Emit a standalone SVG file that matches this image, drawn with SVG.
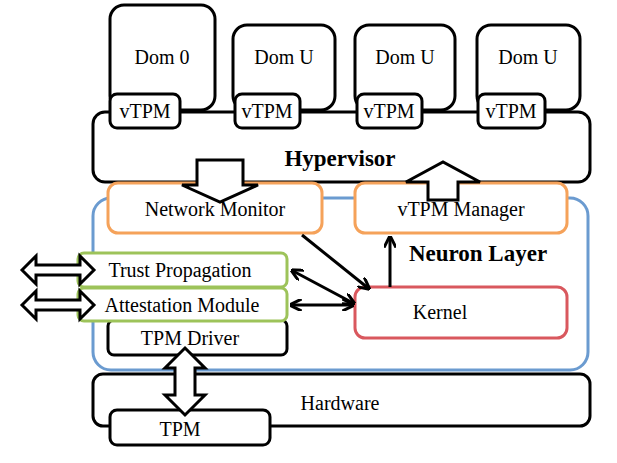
<svg xmlns="http://www.w3.org/2000/svg" width="617" height="463" viewBox="0 0 617 463">
<defs>
<style>
.b{fill:#fff;stroke:#000;stroke-width:3}
.o{fill:#fff;stroke:#f5a25a;stroke-width:3}
.g{fill:#fff;stroke:#9dc35a;stroke-width:3}
.r{fill:#fff;stroke:#d9585e;stroke-width:3}
.bl{fill:#fff;stroke:#6b9bd0;stroke-width:3}
.ba{fill:#fff;stroke:#000;stroke-width:3;stroke-linejoin:miter}
text{font-family:"Liberation Serif",serif;font-size:20px;text-anchor:middle}
.bo{font-weight:bold;font-size:23px}
.c{stroke:#000;stroke-width:3;fill:none}
</style>
<marker id="a" viewBox="0 0 10 10" refX="8" refY="5" markerWidth="4" markerHeight="4" orient="auto-start-reverse"><path d="M0,0 L10,5 L0,10" fill="none" stroke="#000" stroke-width="2.5"/></marker>
</defs>
<g id="dom0"><rect class="b" x="110" y="5" width="105" height="105" rx="14"/><text x="162" y="64">Dom 0</text></g>
<g id="domu1"><rect class="b" x="233" y="25" width="102" height="85" rx="14"/><text x="284" y="64">Dom U</text></g>
<g id="domu2"><rect class="b" x="355" y="25" width="100" height="85" rx="14"/><text x="405" y="64">Dom U</text></g>
<g id="domu3"><rect class="b" x="477" y="25" width="103" height="85" rx="14"/><text x="528" y="64">Dom U</text></g>
<g id="hypervisor"><rect class="b" x="93" y="112" width="497" height="70" rx="12"/><text class="bo" x="340" y="166">Hypervisor</text></g>
<g id="vtpm1"><rect class="b" x="110" y="94" width="70" height="34" rx="7"/><text x="145" y="118">vTPM</text></g>
<g id="vtpm2"><rect class="b" x="235" y="94" width="65" height="34" rx="7"/><text x="267" y="118">vTPM</text></g>
<g id="vtpm3"><rect class="b" x="357" y="94" width="65" height="34" rx="7"/><text x="389" y="118">vTPM</text></g>
<g id="vtpm4"><rect class="b" x="478" y="94" width="67" height="34" rx="7"/><text x="511" y="118">vTPM</text></g>
<g id="neuron"><rect class="bl" x="93" y="198" width="495" height="172" rx="18"/><text class="bo" x="478" y="261">Neuron Layer</text></g>
<g id="hardware"><rect class="b" x="93" y="374" width="497" height="52" rx="10"/><text x="340" y="410">Hardware</text></g>
<g id="tpm"><rect class="b" x="110" y="410" width="160" height="35" rx="7"/><text x="180" y="436">TPM</text></g>
<g id="netmon"><rect class="o" x="108" y="183" width="214" height="50" rx="10"/><text x="215" y="216">Network Monitor</text></g>
<g id="vtpmmgr"><rect class="o" x="355" y="183" width="212" height="50" rx="10"/><text x="461" y="216">vTPM Manager</text></g>
<g id="tpmdriver"><rect class="b" x="108" y="320" width="179" height="35" rx="6"/><text x="190" y="345">TPM Driver</text></g>
<g id="trust"><rect class="g" x="78" y="253" width="209" height="34" rx="6"/><text x="180" y="277">Trust Propagation</text></g>
<g id="attest"><rect class="g" x="78" y="288" width="209" height="33" rx="6"/><text x="182" y="312">Attestation Module</text></g>
<g id="kernel"><rect class="r" x="355" y="287" width="212" height="51" rx="10"/><text x="440" y="319">Kernel</text></g>
<g id="connectors">
<path class="ba" d="M197,160 L243,160 L243,185 L258,185 L220,202 L182,185 L197,185 Z"/>
<path class="ba" d="M428,200 L458,200 L458,182 L480,182 L443,162 L406,182 L428,182 Z"/>
<path class="ba" d="M22,270 L36,256 L36,265 L80,265 L80,256 L94,270 L80,284 L80,275 L36,275 L36,284 Z"/>
<path class="ba" d="M22,305 L36,291 L36,300 L80,300 L80,291 L94,305 L80,319 L80,310 L36,310 L36,319 Z"/>
<path class="ba" d="M185,348 L205,368 L195,368 L195,395 L205,395 L185,415 L165,395 L175,395 L175,368 L165,368 Z"/>
<line class="c" x1="302" y1="235" x2="368" y2="288" marker-end="url(#a)"/>
<line class="c" x1="390" y1="287" x2="390" y2="238" marker-end="url(#a)"/>
<line class="c" x1="293" y1="271" x2="353" y2="303" marker-start="url(#a)" marker-end="url(#a)"/>
<line class="c" x1="292" y1="305" x2="352" y2="305" marker-start="url(#a)" marker-end="url(#a)"/>
</g>
</svg>
